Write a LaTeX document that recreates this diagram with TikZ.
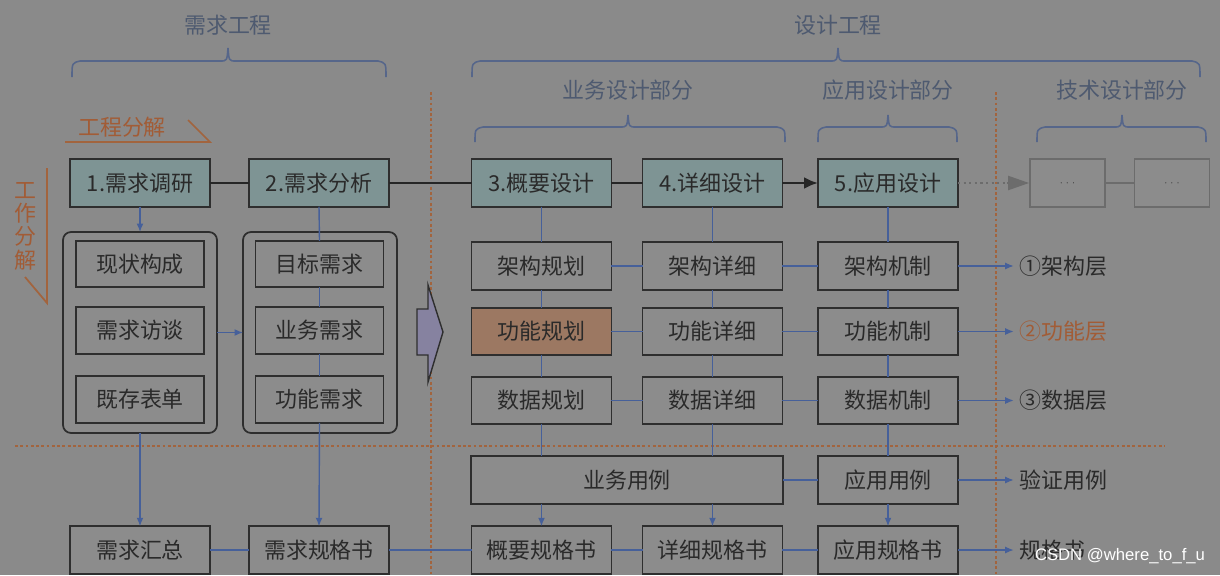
\documentclass[tikz,border=0pt]{standalone}
\usepackage{fontspec}
\newfontfamily\cjk{Noto Sans CJK SC}
\newfontfamily\wmfont{Liberation Sans}
\usetikzlibrary{arrows.meta,calc}
\definecolor{bgc}{HTML}{8A8A8A}
\definecolor{boxc}{HTML}{8C8C8C}
\definecolor{tealc}{HTML}{7E9494}
\definecolor{orgbox}{HTML}{9C7862}
\definecolor{edge}{HTML}{2E2E2E}
\definecolor{txt}{HTML}{2A2A2A}
\definecolor{ttl}{HTML}{4E5A70}
\definecolor{brc}{HTML}{56668A}
\definecolor{bluel}{HTML}{46609A}
\definecolor{orgl}{HTML}{A2643E}
\definecolor{orgt}{HTML}{A25C36}
\definecolor{arrc}{HTML}{8682A0}
\definecolor{grayl}{HTML}{6C6C6C}
\begin{document}
\begin{tikzpicture}[x=0.02cm,y=-0.02cm,
  cjkfont/.style={font=\cjk\fontsize{12.5}{15}\selectfont},
  basebox/.style={cjkfont, draw=edge, line width=1pt, fill=boxc, text=txt,
    inner sep=0pt, outer sep=0pt, minimum width=2.8cm, minimum height=0.95cm},
  tbox/.style={basebox, fill=tealc},
  obox/.style={basebox, fill=orgbox},
  ibox/.style={basebox, minimum width=2.56cm, minimum height=0.93cm},
  gbox/.style={draw=grayl, line width=1pt, fill=boxc, text=txt, inner sep=0pt,
    minimum width=1.5cm, minimum height=0.96cm, font=\tiny},
  cont/.style={draw=edge, line width=1pt, fill=boxc, rounded corners=0.16cm,
    minimum width=3.08cm, minimum height=4.02cm, inner sep=0pt, outer sep=0pt},
  ttlstyle/.style={cjkfont, text=ttl, inner sep=0pt},
  lbl/.style={cjkfont, text=txt, anchor=west, inner sep=0pt},
  brace/.style={draw=brc, line width=0.9pt},
  blk/.style={draw=black!85, line width=1.6pt},
  bl/.style={draw=bluel, line width=0.8pt},
  bla/.style={bl, -{Latex[length=0.17cm,width=0.14cm]}},
  odot/.style={draw=orgl, line width=0.9pt, dash pattern=on 1.6pt off 1.4pt},
  oline/.style={draw=orgl, line width=1pt}
]
\useasboundingbox (0,0) rectangle (1220,575);
\fill[bgc] (0,0) rectangle (1220,575);

% orange dotted separators
\draw[odot] (431,92) -- (431,575);
\draw[odot] (996,92) -- (996,575);
\draw[odot] (15,446) -- (1165,446);

% titles
\node[ttlstyle] (t1) at (228,25) {需求工程};
\node[ttlstyle] (t2) at (838,25) {设计工程};
\node[ttlstyle] (t3) at (628,90) {业务设计部分};
\node[ttlstyle] (t4) at (888,90) {应用设计部分};
\node[ttlstyle] (t5) at (1122,90) {技术设计部分};

% braces
\draw[brace] (72,77) .. controls (72,63) .. (80,61) -- (220,61) .. controls (227,61) .. (228,48) .. controls (229,61) .. (236,61) -- (378,61) .. controls (386,63) .. (386,77);
\draw[brace] (472,77) .. controls (472,63) .. (480,61) -- (830,61) .. controls (837,61) .. (838,48) .. controls (839,61) .. (846,61) -- (1192,61) .. controls (1200,63) .. (1200,77);
\draw[brace] (475,142) .. controls (475,129) .. (483,127) -- (620,127) .. controls (627,127) .. (628,115) .. controls (629,127) .. (636,127) -- (777,127) .. controls (785,129) .. (785,142);
\draw[brace] (818,142) .. controls (818,129) .. (826,127) -- (880,127) .. controls (887,127) .. (888,115) .. controls (889,127) .. (896,127) -- (949,127) .. controls (957,129) .. (957,142);
\draw[brace] (1037,142) .. controls (1037,129) .. (1045,127) -- (1114,127) .. controls (1121,127) .. (1122,115) .. controls (1123,127) .. (1130,127) -- (1198,127) .. controls (1206,129) .. (1206,142);

% left decomposition labels
\node[cjkfont, text=orgt, inner sep=0pt] (gcfj) at (122,127) {工程分解};
\draw[oline] (65,142) -- (210,142) -- (188,120);
\node[cjkfont, text=orgt, inner sep=0pt, align=center, font=\cjk\fontsize{12.5}{13.3}\selectfont] (gzfj) at (25,226) {工\\作\\分\\解};
\draw[oline] (47,168) -- (47,303) -- (25,277);

% row 1
\node[tbox] (b1) at (140,183) {1.需求调研};
\node[tbox] (b2) at (319,183) {2.需求分析};
\node[tbox] (b3) at (541.5,183) {3.概要设计};
\node[tbox] (b4) at (712.5,183) {4.详细设计};
\node[tbox] (b5) at (888,183) {5.应用设计};
\node[gbox] (g1) at (1067.5,183) {$\cdots$};
\node[gbox] (g2) at (1172,183) {$\cdots$};

% containers
\node[cont] (c1) at (140,332.5) {};
\node[cont] (c2) at (320,332.5) {};
\node[ibox] (i11) at (140,264) {现状构成};
\node[ibox] (i12) at (140,330.5) {需求访谈};
\node[ibox] (i13) at (140,399.5) {既存表单};
\node[ibox] (i21) at (319.5,264) {目标需求};
\node[ibox] (i22) at (319.5,330.5) {业务需求};
\node[ibox] (i23) at (319.5,399.5) {功能需求};

% design grid
\node[basebox] (a3) at (541.5,266) {架构规划};
\node[obox]    (f3) at (541.5,331.5) {功能规划};
\node[basebox] (d3) at (541.5,400.5) {数据规划};
\node[basebox] (a4) at (712.5,266) {架构详细};
\node[basebox] (f4) at (712.5,331.5) {功能详细};
\node[basebox] (d4) at (712.5,400.5) {数据详细};
\node[basebox] (a5) at (888,266) {架构机制};
\node[basebox] (f5) at (888,331.5) {功能机制};
\node[basebox] (d5) at (888,400.5) {数据机制};
\node[basebox, minimum width=6.24cm] (yw) at (627,480) {业务用例};
\node[basebox] (yy) at (888,480) {应用用例};

% bottom row
\node[basebox] (s1) at (140,550) {需求汇总};
\node[basebox] (s2) at (319,550) {需求规格书};
\node[basebox] (s3) at (541.5,550) {概要规格书};
\node[basebox] (s4) at (712.5,550) {详细规格书};
\node[basebox] (s5) at (888,550) {应用规格书};

% right labels
\node[lbl] (l1) at (1019,266) {①架构层};
\node[lbl, text=orgt] (l2) at (1019,331.5) {②功能层};
\node[lbl] (l3) at (1019,400.5) {③数据层};
\node[lbl] (l4) at (1019,480) {验证用例};
\node[lbl] (l5) at (1019,550) {规格书};

% big transition arrow
\draw[fill=arrc, draw=edge, line width=0.8pt, line join=miter] (417,309) -- (428,309) -- (428,285) -- (443,332) -- (428,382) -- (428,355) -- (417,355) -- cycle;

% black process line
\draw[blk] (b1.east) -- (b2.west);
\draw[blk] (b2.east) -- (b3.west);
\draw[blk] (b3.east) -- (b4.west);
\draw[blk, -{Latex[length=0.28cm,width=0.24cm]}] (b4.east) -- (b5.west);
\draw[draw=grayl, line width=1.2pt, dash pattern=on 1.2pt off 2pt] (b5.east) -- ($(g1.west)+(-20,0)$);
\draw[draw=grayl, line width=1.2pt, -{Triangle[length=0.42cm,width=0.28cm]}] ($(g1.west)+(-22,0)$) -- (g1.west);
\draw[draw=grayl, line width=1.2pt] (g1.east) -- (g2.west);

% requirement connectors
\draw[bla] (b1.south) -- (c1.north);
\draw[bl] (b2.south) -- (i21.north);
\draw[bl] (i21.south) -- (i22.north);
\draw[bl] (i22.south) -- (i23.north);
\draw[bla] (i23.south) -- (s2.north);
\draw[bla] (c1.east) -- (c2.west);
\draw[bla] (c1.south) -- (s1.north);

% design connectors vertical
\draw[bl] (b3.south) -- (a3.north);
\draw[bl] (a3.south) -- (f3.north);
\draw[bl] (f3.south) -- (d3.north);
\draw[bl] (d3.south) -- (d3.south |- yw.north);
\draw[bl] (b4.south) -- (a4.north);
\draw[bl] (a4.south) -- (f4.north);
\draw[bl] (f4.south) -- (d4.north);
\draw[bl] (d4.south) -- (d4.south |- yw.north);
\draw[bl] (b5.south) -- (a5.north);
\draw[bl] (a5.south) -- (f5.north);
\draw[bl] (f5.south) -- (d5.north);
\draw[bl] (d5.south) -- (yy.north);
\draw[bla] (s3.north |- yw.south) -- (s3.north);
\draw[bla] (s4.north |- yw.south) -- (s4.north);
\draw[bla] (yy.south) -- (s5.north);

% design connectors horizontal
\draw[bl] (a3.east) -- (a4.west);
\draw[bl] (a4.east) -- (a5.west);
\draw[bl] (f3.east) -- (f4.west);
\draw[bl] (f4.east) -- (f5.west);
\draw[bl] (d3.east) -- (d4.west);
\draw[bl] (d4.east) -- (d5.west);
\draw[bl] (yw.east) -- (yy.west);
\draw[bl] (s1.east) -- (s2.west);
\draw[bl] (s2.east) -- (s3.west);
\draw[bl] (s3.east) -- (s4.west);
\draw[bl] (s4.east) -- (s5.west);
\draw[bla, shorten >=3pt] (a5.east) -- (l1.west);
\draw[bla, shorten >=3pt] (f5.east) -- (l2.west);
\draw[bla, shorten >=3pt] (d5.east) -- (l3.west);
\draw[bla, shorten >=3pt] (yy.east) -- (l4.west);
\draw[bla, shorten >=3pt] (s5.east) -- (l5.west);

% watermark
\node[font=\wmfont\fontsize{9.5}{11}\selectfont, text=white, inner sep=0pt] (wm) at (1120,556) {CSDN @where\_to\_f\_u};
\end{tikzpicture}
\end{document}
